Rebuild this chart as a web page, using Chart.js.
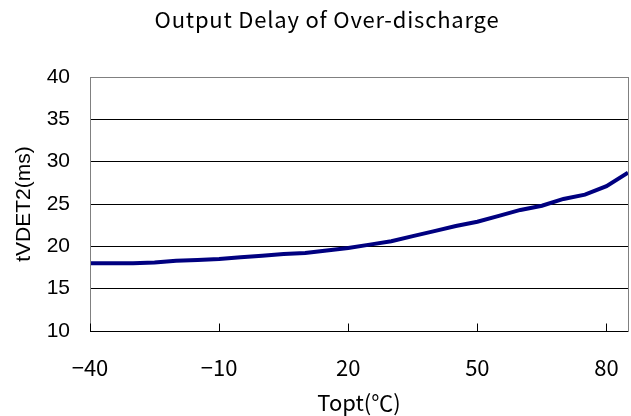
<!DOCTYPE html>
<html>
<head>
<meta charset="utf-8">
<script src="https://cdn.jsdelivr.net/npm/chart.js@4"></script>
<style>
  html, body { margin: 0; padding: 0; background: #fff; }
  #wrap { width: 631px; height: 416px; }
</style>
</head>
<body>
<div id="wrap"><canvas id="delayChart" width="631" height="416"></canvas></div>
<script>
// measured data: temperature (°C) vs tVDET2 (ms)
const temps = [-40, -35, -30, -25, -20, -15, -10, -5, 0, 5, 10, 15, 20, 25, 30, 35, 40, 45, 50, 55, 60, 65, 70, 75, 80, 85];
const delayMs = [18.0, 18.0, 18.0, 18.1, 18.3, 18.4, 18.5, 18.7, 18.9, 19.1, 19.2, 19.5, 19.8, 20.2, 20.6, 21.2, 21.8, 22.4, 22.9, 23.6, 24.3, 24.8, 25.6, 26.1, 27.1, 28.7];
const xTicks = [-40, -10, 20, 50, 80];
const yTicks = [10, 15, 20, 25, 30, 35, 40];

const chartTitle = 'Output Delay of Over-discharge';
const xTitle = 'Topt(℃)';
const yTitle = 'tVDET2(ms)';

const gothic = '"Noto Sans CJK JP", "Noto Sans", sans-serif';
const arial = '"Liberation Sans", Arial, sans-serif';

// title + frame + inner tick marks (Excel style)
const decor = {
    id: 'decor',
    afterDraw(chart) {
        const { ctx, chartArea: a, scales } = chart;
        ctx.save();
        ctx.strokeStyle = '#808080';
        ctx.lineWidth = 1;
        ctx.strokeRect(Math.round(a.left) + 0.5, Math.round(a.top) + 0.5,
            Math.round(a.right - a.left), Math.round(a.bottom - a.top));
        ctx.strokeStyle = '#000';
        ctx.beginPath();
        const yb = Math.round(a.bottom) + 0.5;
        ctx.moveTo(a.left, yb);
        ctx.lineTo(a.right, yb);
        xTicks.forEach(v => {
            const x = Math.round(scales.x.getPixelForValue(v)) + 0.5;
            ctx.moveTo(x, yb);
            ctx.lineTo(x, yb - 8);
        });
        ctx.stroke();

        ctx.fillStyle = '#000';
        ctx.font = '22px ' + gothic;
        ctx.letterSpacing = '0.8px';
        ctx.textAlign = 'center';
        ctx.textBaseline = 'middle';
        ctx.fillText(chartTitle, 327, 20);
        ctx.restore();
    }
};

new Chart(document.getElementById('delayChart'), {
    type: 'line',
    data: {
        datasets: [{
            data: temps.map((t, i) => ({ x: t, y: delayMs[i] })),
            borderColor: '#000080',
            borderWidth: 4,
            pointRadius: 0,
            tension: 0,
            fill: false
        }]
    },
    options: {
        responsive: false,
        animation: false,
        layout: { autoPadding: false, padding: { top: 77, right: 3, left: 0, bottom: 0 } },
        plugins: {
            legend: { display: false },
            tooltip: { enabled: false }
        },
        scales: {
            x: {
                type: 'linear',
                min: -40,
                max: 85,
                afterBuildTicks: (s) => { s.ticks = xTicks.map(v => ({ value: v })); },
                afterFit: (s) => { s.height = 85; s.paddingLeft = 0; s.paddingRight = 0; },
                grid: { display: false, drawTicks: false },
                border: { display: false },
                ticks: {
                    color: '#000',
                    padding: 23,
                    maxRotation: 0,
                    font: { family: gothic, size: 22 },
                    callback: (v) => v < 0 ? '\u2212' + Math.abs(v) : String(v)
                },
                title: {
                    display: true,
                    text: xTitle,
                    color: '#000',
                    font: { family: gothic, size: 22 },
                    padding: { top: 0, bottom: 0 }
                }
            },
            y: {
                min: 10,
                max: 40,
                afterBuildTicks: (s) => { s.ticks = yTicks.map(v => ({ value: v })); },
                afterFit: (s) => { s.width = 90; s.paddingTop = 0; s.paddingBottom = 0; },
                grid: { color: '#000', lineWidth: 1, drawTicks: false },
                border: { display: false },
                ticks: {
                    color: '#000',
                    padding: 20,
                    font: { family: arial, size: 21 }
                },
                title: {
                    display: true,
                    text: yTitle,
                    color: '#000',
                    font: { family: arial, size: 21 },
                    padding: { top: 12, bottom: 0 }
                }
            }
        }
    },
    plugins: [decor]
});
</script>
</body>
</html>
